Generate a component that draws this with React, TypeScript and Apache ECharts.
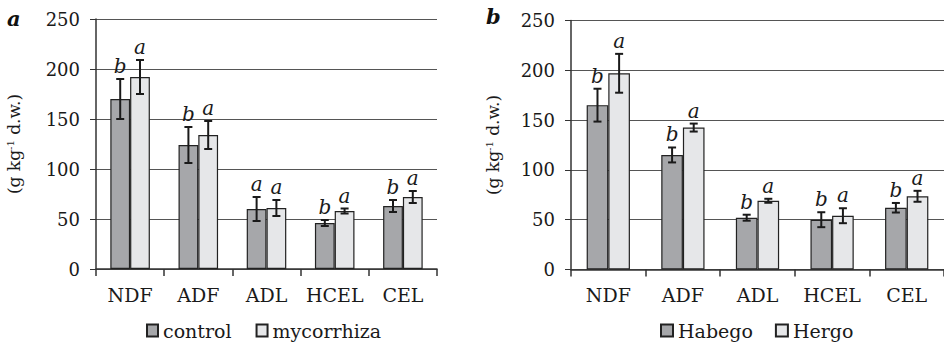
import React, { useEffect, useRef } from "react";
import * as echarts from "echarts";

const categories = ["NDF", "ADF", "ADL", "HCEL", "CEL"];
const yTicks = [0, 50, 100, 150, 200, 250];

// Panel a
const controlMean = [170, 124, 60, 46, 63];
const controlErr = [20, 18, 12, 3, 6];
const controlLetters = ["b", "b", "a", "b", "b"];
const mycorrhizaMean = [192, 134, 61, 58, 72];
const mycorrhizaErr = [17, 14, 8, 2.5, 6];
const mycorrhizaLetters = ["a", "a", "a", "a", "a"];

// Panel b
const habegoMean = [165, 115, 52, 50, 62];
const habegoErr = [16.5, 7.5, 3, 7.5, 4.8];
const habegoLetters = ["b", "b", "b", "b", "b"];
const hergoMean = [197, 142.5, 69, 54, 73.5];
const hergoErr = [19.5, 4, 2, 7.5, 5.5];
const hergoLetters = ["a", "a", "a", "a", "a"];

const DARK = "#a6a7aa";
const LIGHT = "#e6e7e9";
const EDGE = "#222";
const FONT = "DejaVu Serif";

function errSeries(
  axis: number,
  means: number[],
  errs: number[],
  letters: string[],
  side: number
) {
  return {
    type: "custom",
    xAxisIndex: axis,
    yAxisIndex: axis,
    z: 5,
    silent: true,
    encode: { x: 0, y: 1 },
    data: means.map((m, i) => [i, m, errs[i]]),
    renderItem: (params: any, api: any) => {
      const cat = api.value(0);
      const mean = api.value(1);
      const err = api.value(2);
      const catW = api.size([1, 0])[0];
      const hi = api.coord([cat, mean + err]);
      const lo = api.coord([cat, mean - err]);
      const x = hi[0] + side * catW * 0.145;
      const cap = 4;
      const st = { stroke: "#1a1a1a", lineWidth: 2 };
      return {
        type: "group",
        children: [
          { type: "line", shape: { x1: x, y1: hi[1], x2: x, y2: lo[1] }, style: st },
          { type: "line", shape: { x1: x - cap, y1: hi[1], x2: x + cap, y2: hi[1] }, style: st },
          { type: "line", shape: { x1: x - cap, y1: lo[1], x2: x + cap, y2: lo[1] }, style: st },
          {
            type: "text",
            style: {
              text: letters[params.dataIndex],
              x: x,
              y: hi[1] - 3,
              align: "center",
              verticalAlign: "bottom",
              fontFamily: FONT,
              fontStyle: "italic",
              fontSize: 20,
              fill: "#1a1a1a",
            },
          },
        ],
      };
    },
  };
}

function barSeries(axis: number, name: string, data: number[], color: string) {
  return {
    type: "bar",
    name,
    xAxisIndex: axis,
    yAxisIndex: axis,
    data,
    barWidth: "29%",
    barGap: "0%",
    itemStyle: { color, borderColor: EDGE, borderWidth: 1.2 },
  };
}

export default function App() {
  const ref = useRef<HTMLDivElement>(null);
  useEffect(() => {
    document.body.style.margin = "0";
    if (!ref.current) return;
    const chart = echarts.init(ref.current, undefined, { renderer: "svg" });
    const xAxis = (gi: number) => ({
      type: "category",
      gridIndex: gi,
      data: categories,
      axisLine: { show: true, lineStyle: { color: "#333", width: 1.5 } },
      axisTick: { show: true, length: 7, lineStyle: { color: "#333", width: 1.5 } },
      axisLabel: { color: "#1a1a1a", fontFamily: FONT, fontSize: 19, margin: 16, interval: 0 },
      splitLine: { show: false },
    });
    const yAxis = (gi: number, gap: number) => ({
      type: "value",
      gridIndex: gi,
      min: 0,
      max: 250,
      interval: 50,
      name: "(g kg{sup|-1} d.w.)",
      nameLocation: "middle",
      nameGap: gap,
      nameRotate: 90,
      nameTextStyle: {
        color: "#1a1a1a",
        fontFamily: FONT,
        fontSize: 17,
        rich: {
          sup: { fontFamily: FONT, fontSize: 10, verticalAlign: "top", color: "#1a1a1a", padding: [0, 0, 8, 0] },
        },
      },
      axisLine: { show: true, lineStyle: { color: "#333", width: 1.5 } },
      axisTick: { show: true, length: 6, lineStyle: { color: "#333" } },
      axisLabel: {
        color: "#1a1a1a",
        fontFamily: FONT,
        fontSize: 18,
        margin: 16,
        customValues: yTicks,
      },
      splitLine: { show: true, lineStyle: { color: "#555", width: 1.2 } },
    });
    const legendText = { color: "#1a1a1a", fontFamily: FONT, fontSize: 19 };
    chart.setOption({
      animation: false,
      grid: [
        { left: 96, top: 19, width: 341, height: 250 },
        { left: 571, top: 20.5, width: 376, height: 249 },
      ],
      xAxis: [xAxis(0), xAxis(1)],
      yAxis: [yAxis(0, 73), yAxis(1, 69)],
      legend: [
        {
          data: ["control", "mycorrhiza"],
          left: 146,
          top: 321,
          padding: 0,
          itemWidth: 11,
          itemHeight: 12,
          itemGap: 24,
          icon: "rect",
          textStyle: legendText,
        },
        {
          data: ["Habego", "Hergo"],
          left: 660,
          top: 321,
          padding: 0,
          itemWidth: 12,
          itemHeight: 12,
          itemGap: 22,
          icon: "rect",
          textStyle: legendText,
        },
      ],
      graphic: [
        {
          type: "text",
          left: 7,
          top: 8,
          style: { text: "a", fontFamily: FONT, fontStyle: "italic", fontWeight: "bold", fontSize: 21, fill: "#111" },
        },
        {
          type: "text",
          left: 486,
          top: 6,
          style: { text: "b", fontFamily: FONT, fontStyle: "italic", fontWeight: "bold", fontSize: 21, fill: "#111" },
        },
      ],
      series: [
        barSeries(0, "control", controlMean, DARK),
        barSeries(0, "mycorrhiza", mycorrhizaMean, LIGHT),
        errSeries(0, controlMean, controlErr, controlLetters, -1),
        errSeries(0, mycorrhizaMean, mycorrhizaErr, mycorrhizaLetters, 1),
        barSeries(1, "Habego", habegoMean, DARK),
        barSeries(1, "Hergo", hergoMean, LIGHT),
        errSeries(1, habegoMean, habegoErr, habegoLetters, -1),
        errSeries(1, hergoMean, hergoErr, hergoLetters, 1),
      ],
    });
    return () => chart.dispose();
  }, []);
  return <div ref={ref} style={{ width: 944, height: 342 }} />;
}
